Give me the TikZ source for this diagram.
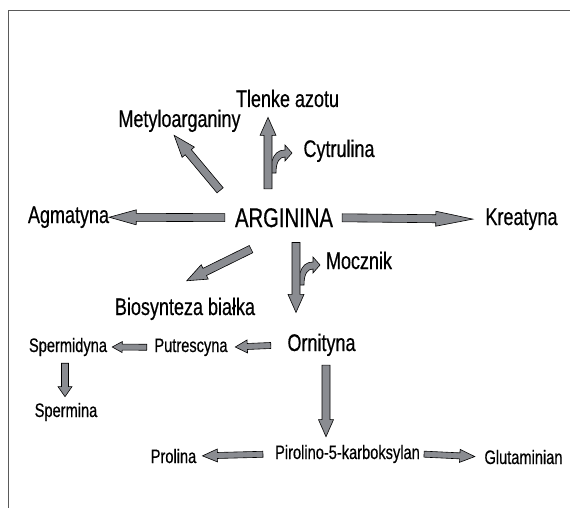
\documentclass[tikz,border=0pt]{standalone}
\usepackage{fontspec}
\setmainfont[FakeStretch=0.75,FakeBold=0.5]{Liberation Sans}
\usepackage{tikz}
\usetikzlibrary{calc}
\definecolor{arrowgray}{RGB}{138,140,145}
\definecolor{framegray}{RGB}{90,90,90}
\tikzset{
  shaft width/.store in=\shaftwd, shaft width=8pt,
  head width/.store in=\headwd, head width=16pt,
  head length/.store in=\headlen, head length=18pt,
  tail gap/.store in=\tailgap, tail gap=0pt,
  tip gap/.store in=\tipgap, tip gap=0pt,
  block/.style={draw=black, fill=arrowgray, line width=0.6pt, line join=miter},
  fat/.style={block,
    to path={let \p1=($(\tikztostart)!\tailgap!(\tikztotarget)$),
                 \p2=($(\tikztotarget)!\tipgap!(\tikztostart)$),
                 \n1={atan2(\y2-\y1,\x2-\x1)}, \n2={veclen(\x2-\x1,\y2-\y1)} in
      [shift={(\p1)}, rotate=\n1]
      (0pt,{\shaftwd/2}) -- ({\n2-\headlen},{\shaftwd/2}) -- ({\n2-\headlen},{\headwd/2})
      -- ({\n2*1pt},0pt) -- ({\n2-\headlen},{-\headwd/2}) -- ({\n2-\headlen},{-\shaftwd/2})
      -- (0pt,{-\shaftwd/2}) -- cycle}},
  slim/.style={fat, shaft width=6pt, head width=13pt, head length=15pt}
}

\begin{document}
\begin{tikzpicture}[x=1pt,y=-1pt,every node/.style={inner sep=0pt,anchor=base}]
   \useasboundingbox (0,0) rectangle (570,508);
   \draw[framegray, line width=1pt] (570,11) -- (8,11) -- (8,508);
   \tikzstyle{hub}=[font=\fontsize{27}{30}\selectfont]
   \tikzstyle{product}=[font=\fontsize{24}{28}\selectfont]
   \tikzstyle{minor}=[font=\fontsize{19.5}{23}\selectfont]
   \node[hub] (arg) at (284,227) {ARGININA};
   \foreach \name/\x/\y/\word in {tlen/287.5/107/{Tlenke azotu}, met/179.5/127/{Metyloarganiny},
       cyt/339/157/{Cytrulina}, agm/68.5/223/{Agmatyna}, kre/521.5/225/{Kreatyna},
       moc/359/269/{Mocznik}, bio/185/315/{Biosynteza białka}, orn/321.5/351/{Ornityna}} {
       \node[product] (\name) at (\x,\y) {\word};
   }
   \foreach \name/\x/\y/\word in {put/191/352/{Putrescyna}, spd/68/352/{Spermidyna},
       spm/66/417/{Spermina}, pir/347.5/459/{Pirolino-5-karboksylan},
       pro/173.5/463/{Prolina}, glu/523.5/464/{Glutaminian}} {
       \node[minor] (\name) at (\x,\y) {\word};
   }
   \coordinate (cytbend) at (272,161);
   \coordinate (mocbend) at (300,273);
   \foreach \b in {cytbend,mocbend}
       \draw[block, shift={(\b)}] (0,0) .. controls (2,-7) and (6,-11) .. (13,-11) -- (13,-16)
           -- (20,-8) -- (13,0) -- (13,-4) .. controls (8,-4) and (4,0) .. (4,12) -- (-2,12) -- (-2,0) -- cycle;
   \draw[fat, tail gap=10pt, head width=15pt, head length=27pt] (arg.west) to (agm.east);
   \draw[fat, tail gap=9pt, tip gap=12.5pt, head width=15pt, head length=37pt] (arg.east) to (kre.west);
   \draw[fat, tail gap=19pt, tip gap=10pt] ([xshift=-16pt]arg.north) to ([xshift=-19.5pt]tlen.south);
   \draw[fat, tail gap=23pt, tip gap=4pt, head length=22pt] (arg.north west) to ([xshift=-8pt]met.south);
   \draw[fat, tail gap=49pt, tip gap=37.6pt, head length=20pt] ([xshift=11pt]arg.south) to ([xshift=-32pt]bio.north);
   \draw[fat, tail gap=15pt, tip gap=21pt] ([xshift=12pt]arg.south) to ([xshift=-25.5pt]orn.north);
   \draw[slim, head length=12pt, tail gap=16.5pt, tip gap=7.5pt] (orn.west) to (put.east);
   \draw[slim, head width=11pt, head length=10pt, tail gap=7.5pt, tip gap=5pt] (put.west) to (spd.east);
   \draw[slim, shaft width=7pt, head width=14pt, head length=10pt, tail gap=7pt, tip gap=6pt] ([xshift=-3pt]spd.south) to ([xshift=-1pt]spm.north);
   \draw[fat, head width=15pt, head length=17pt, tail gap=9pt, tip gap=8pt] ([xshift=4.5pt]orn.south) to ([xshift=-21.5pt]pir.north);
   \draw[slim, tail gap=12pt, tip gap=6pt] (pir.west) to (pro.east);
   \draw[slim, tail gap=4pt, tip gap=9.5pt] (pir.east) to (glu.west);
\end{tikzpicture}
\end{document}
